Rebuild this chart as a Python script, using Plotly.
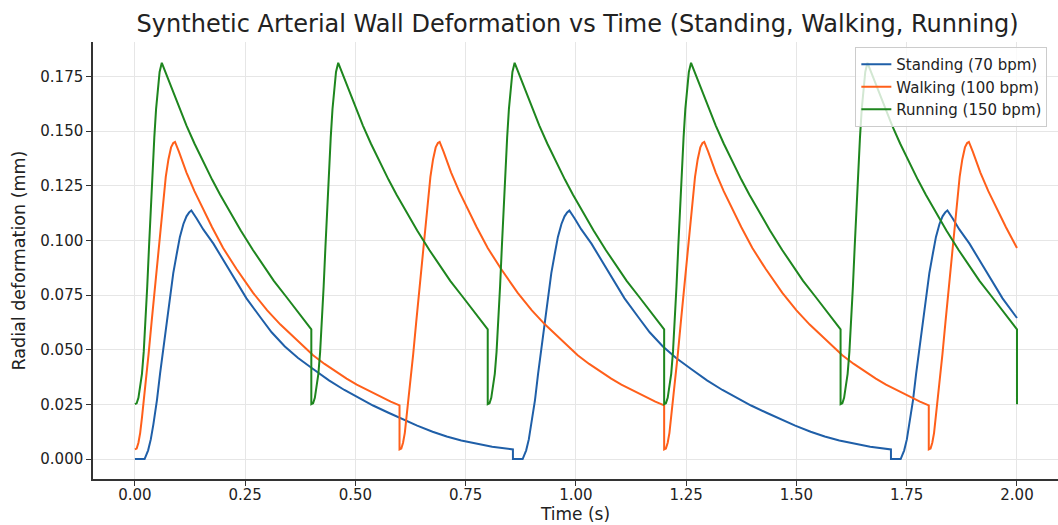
import plotly.graph_objects as go

# Heart rates (bpm) and labels
labels = ["Standing (70 bpm)", "Walking (100 bpm)", "Running (150 bpm)"]
bpm = [70, 100, 150]

# One cycle of each waveform: time within cycle (s) and deformation (mm)
standing_t = [0.000, 0.022, 0.030, 0.036, 0.042, 0.050, 0.057, 0.065, 0.072, 0.080,
              0.087, 0.095, 0.102, 0.110, 0.117, 0.123, 0.128,
              0.140, 0.155, 0.178, 0.200, 0.225, 0.253, 0.2857, 0.310, 0.340,
              0.370, 0.404, 0.440, 0.475, 0.503, 0.540, 0.575, 0.601, 0.640,
              0.675, 0.707, 0.740, 0.775, 0.810, 0.8571]
standing_y = [0.000, 0.000, 0.004, 0.009, 0.016, 0.027, 0.039, 0.051, 0.062, 0.074,
              0.085, 0.094, 0.1016, 0.1075, 0.111, 0.1128, 0.1137,
              0.110, 0.105, 0.0985, 0.091, 0.0825, 0.0735, 0.0645, 0.058, 0.0515,
              0.0462, 0.0412, 0.036, 0.0316, 0.0285, 0.0245, 0.0212, 0.0188, 0.0153,
              0.0125, 0.0103, 0.0085, 0.0069, 0.0056, 0.0044]

walking_t = [0.000, 0.004, 0.008, 0.012, 0.016, 0.020, 0.025, 0.031, 0.038, 0.046,
             0.052, 0.058, 0.064, 0.070, 0.076, 0.082, 0.087, 0.091,
             0.100, 0.117, 0.135, 0.155, 0.175, 0.200, 0.230, 0.268, 0.300,
             0.330, 0.359, 0.385, 0.404, 0.430, 0.455, 0.480, 0.503, 0.530,
             0.555, 0.580, 0.600]
walking_y = [0.0044, 0.0048, 0.0075, 0.012, 0.019, 0.026, 0.035, 0.048, 0.063, 0.080,
             0.093, 0.106, 0.118, 0.129, 0.137, 0.1425, 0.1445, 0.145,
             0.1405, 0.131, 0.1225, 0.114, 0.106, 0.0965, 0.087, 0.076, 0.068,
             0.0615, 0.056, 0.051, 0.0475, 0.0435, 0.040, 0.0368, 0.034, 0.0312,
             0.0286, 0.0263, 0.0246]

running_t = [0.000, 0.004, 0.008, 0.012, 0.016, 0.020, 0.024, 0.028, 0.032, 0.036,
             0.040, 0.044, 0.048, 0.052, 0.056, 0.061,
             0.070, 0.085, 0.100, 0.117, 0.135, 0.155, 0.175, 0.193, 0.215,
             0.240, 0.268, 0.290, 0.315, 0.344, 0.372, 0.400]
running_y = [0.0251, 0.0255, 0.028, 0.033, 0.039, 0.049, 0.062, 0.079, 0.097, 0.115,
             0.132, 0.147, 0.160, 0.170, 0.177, 0.1812,
             0.1765, 0.169, 0.1605, 0.1525, 0.1443, 0.1358, 0.1278, 0.121, 0.113,
             0.1045, 0.0955, 0.0888, 0.0815, 0.074, 0.0665, 0.0593]

cycles_t = [standing_t, walking_t, running_t]
cycles_y = [standing_y, walking_y, running_y]
colors = ["#1f5fa8", "#ff5f1a", "#1e861e"]
t_end = 2.0

fig = go.Figure()
for lab, rate, ct, cy, col in zip(labels, bpm, cycles_t, cycles_y, colors):
    period = 60.0 / rate
    xs, ys = [], []
    k = 0
    while k * period <= t_end + 1e-9:
        for a, b in zip(ct, cy):
            t = k * period + a
            if t <= t_end + 1e-6:
                xs.append(t)
                ys.append(b)
        k += 1
    fig.add_trace(go.Scatter(x=xs, y=ys, mode="lines", name=lab,
                             line=dict(color=col, width=2)))

font_fam = "DejaVu Sans"
axis_common = dict(
    showline=True, linecolor="#333333", linewidth=1.5,
    ticks="outside", ticklen=5, tickwidth=1.2, tickcolor="#333333",
    showgrid=True, gridcolor="#e6e6e6", gridwidth=1,
    zeroline=False, mirror=False, automargin=False,
    tickfont=dict(family=font_fam, size=15, color="#222222"),
)

fig.update_layout(
    width=1058, height=525,
    margin=dict(l=93, r=0, t=42, b=46),
    paper_bgcolor="white", plot_bgcolor="white",
    title=dict(text="Synthetic Arterial Wall Deformation vs Time (Standing, Walking, Running)",
               x=0.546, xanchor="center", y=0.956, yanchor="middle",
               font=dict(family=font_fam, size=24, color="#222222")),
    xaxis=dict(range=[-0.095, 2.093], tickvals=[0, 0.25, 0.5, 0.75, 1.0, 1.25, 1.5, 1.75, 2.0],
               ticktext=["0.00", "0.25", "0.50", "0.75", "1.00", "1.25", "1.50", "1.75", "2.00"],
               ticklabelstandoff=-4,
               title=dict(text="Time (s)", standoff=2,
                          font=dict(family=font_fam, size=17, color="#222222")),
               **axis_common),
    yaxis=dict(range=[-0.0091, 0.1907],
               tickvals=[0, 0.025, 0.05, 0.075, 0.1, 0.125, 0.15, 0.175],
               ticktext=["0.000", "0.025", "0.050", "0.075", "0.100", "0.125", "0.150", "0.175"],
               title=dict(text="Radial deformation (mm)", standoff=10,
                          font=dict(family=font_fam, size=17.5, color="#222222")),
               **axis_common),
    legend=dict(x=0.79, xanchor="left", y=0.9886, yanchor="top",
                bgcolor="rgba(255,255,255,0.8)", bordercolor="#cccccc", borderwidth=1,
                font=dict(family=font_fam, size=15, color="#222222"),
                tracegroupgap=0, itemwidth=30),
    showlegend=True,
)

fig.write_html("out.html", config={"displayModeBar": False},
               post_script="document.body.style.margin='0';")
